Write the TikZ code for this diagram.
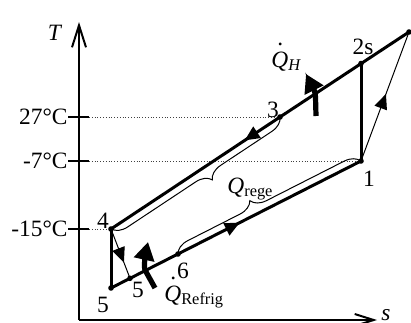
\documentclass[tikz,border=0pt]{standalone}
\usepackage{fontspec}
\setmainfont{Liberation Serif}
\usetikzlibrary{arrows.meta,decorations.pathreplacing,decorations.markings}

\newcommand{\qdot}{\makebox[0pt][l]{\hspace{0.26em}\raisebox{0.9em}{.}}\textit{Q}}

\tikzset{
  axisline/.style={line width=1pt},
  cyc/.style={line width=1.5pt},
  thinline/.style={line width=0.5pt},
  tickmark/.style={line width=0.6pt},
  guide/.style={densely dotted,line width=0.4pt,black!75},
  lbl/.style={inner sep=0pt},
  flow/.style={postaction={decorate,decoration={markings,
    mark=at position #1 with {\arrow{Triangle[length=7.5pt,width=6.5pt]}}}}},
  rege/.style={line width=0.5pt,decorate,decoration={brace,amplitude=7.5pt,aspect=#1}},
  heat/.style={line width=2.6pt,-{Triangle[length=9pt,width=10pt]}},
}

\begin{document}
\begin{tikzpicture}[x=0.5pt,y=-0.5pt,font=\fontsize{11.7}{14}\selectfont]
  \useasboundingbox (0,0) rectangle (411,322);
  % axes
  \coordinate (o) at (79,320);
  \coordinate (ttop) at (79,22);
  \coordinate (send) at (377,320);
  \draw[axisline,-{Straight Barb[length=11pt,width=7pt]}] (o) -- (ttop);
  \draw[axisline,-{Straight Barb[length=9.5pt,width=6pt]}] (o) -- (send);
  \node[lbl] (tlab) at (55,33) {\textit{T}};
  \node[lbl,anchor=base west] (slab) at (381,320) {\textit{s}};
  % states
  \coordinate (p1) at (361,161);
  \coordinate (p2s) at (361,63.5);
  \coordinate (p2) at (409,32);
  \coordinate (p3) at (280,117);
  \coordinate (p4) at (111,229);
  \coordinate (p5) at (111,288);
  \coordinate (p5p) at (130,278.3);
  \coordinate (p6) at (178,254);
  % temperature levels
  \foreach \y/\lab/\pt in {117/27°C/p3,161/-7°C/p1,229/-15°C/p4}
  {
    \draw[tickmark] (68,\y) coordinate (tl\pt) -- (89,\y) coordinate (tr\pt);
    \node[lbl,anchor=east] (lab\pt) at (tl\pt) {\lab};
    \draw[guide] (tr\pt) -- (\pt);
  }
  % cycle
  \draw[cyc] (p2) -- (p3);
  \draw[cyc,flow=0.21] (p3) -- (p4);
  \draw[cyc] (p4) -- (p5);
  \draw[cyc,flow=0.515] (p5) -- (p1);
  \draw[cyc] (p1) -- (p2s);
  \draw[thinline,flow=0.52] (p1) -- (p2);
  \draw[thinline,flow=0.68] (p4) -- (p5p);
  \foreach \p in {p1,p2s,p2,p3,p4,p5,p5p,p6}
    \fill (\p) circle (1.4pt);
  % regenerator
  \draw[rege=0.45] (p3) -- (p4);
  \draw[rege=0.43] (p6) -- (p1);
  \node[lbl,anchor=base west] (qrege) at (227,193) {\textit{Q}\textsubscript{rege}};
  % heat flows
  \coordinate (qh0) at (316,116);
  \coordinate (qh1) at (306,74);
  \draw[heat] (qh0) -- ++(-0.5,-19) .. controls ++(-0.5,-9) and ++(4,8) .. (qh1);
  \node[lbl,anchor=base west] (qhlab) at (271,67) {\qdot\textsubscript{\textit{H}}};
  \coordinate (qr0) at (155,288);
  \coordinate (qr1) at (148,242);
  \draw[heat] (qr0) -- ++(-10,-18) .. controls ++(-1.5,-4) and ++(-2,9) .. (qr1);
  \node[lbl,anchor=base west] (qrlab) at (164,301) {\qdot\textsubscript{Refrig}};
  % state labels
  \node[lbl] (l1) at (369,179) {1};
  \node[lbl] (l2s) at (363,47) {2s};
  \node[lbl] (l3) at (273,110) {3};
  \node[lbl] (l4) at (103,221) {4};
  \node[lbl] (l5) at (103,305) {5};
  \node[lbl] (l5p) at (138,290) {5};
  \node[lbl] (l6) at (183,271) {6};
\end{tikzpicture}
\end{document}
